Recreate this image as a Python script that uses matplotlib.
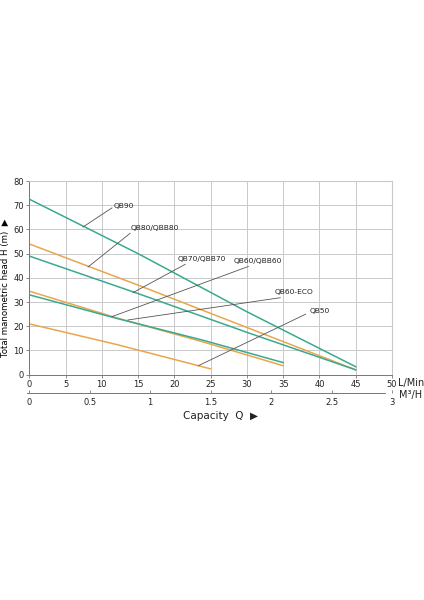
import numpy as np
import matplotlib.pyplot as plt

# pump curves: capacity (L/min) vs head (m)
qb90_q = [0, 15, 30, 45]
qb90_h = [72.5, 50, 26, 3.3]
qb80_q = [0, 15, 30, 45]
qb80_h = [54, 37, 19.5, 2]
qb70_q = [0, 15, 30, 45]
qb70_h = [49, 33.5, 17.5, 2]
qb60_q = [0, 12, 24, 35]
qb60_h = [34.5, 23.5, 13.5, 3.7]
eco_q = [0, 12, 24, 35]
eco_h = [33, 23.3, 14.2, 5]
qb50_q = [0, 12, 25]
qb50_h = [21, 12.5, 2.4]

# labels: text position and point on curve
labels = ["QB90", "QB80/QBB80", "QB70/QBB70", "QB60/QBB60", "QB60-ECO", "QB50"]
label_xy = [(11.6, 69.5), (14.0, 60.5), (20.4, 47.8), (28.2, 47.0), (33.8, 34.2), (38.7, 26.5)]
leader_start = [(11.4, 68.9), (13.9, 58.4), (21.5, 45.6), (30.2, 44.7), (34.6, 31.8), (38.1, 25.0)]
leader_end = [(7.4, 61.0), (8.1, 44.5), (14.3, 33.9), (11.4, 24.0), (13.6, 22.6), (23.3, 3.7)]

teal = "#3aa98f"
orange = "#e9a64c"

fig = plt.figure(figsize=(4.24, 6.0), dpi=100)
ax = fig.add_axes([0.0691, 0.3755, 0.8554, 0.3228])

ax.plot(qb90_q, qb90_h, color=teal, lw=1.1)
ax.plot(qb80_q, qb80_h, color=orange, lw=1.1)
ax.plot(qb70_q, qb70_h, color=teal, lw=1.1)
ax.plot(qb60_q, qb60_h, color=orange, lw=1.1)
ax.plot(eco_q, eco_h, color=teal, lw=1.1)
ax.plot(qb50_q, qb50_h, color=orange, lw=1.1)

for name, txy, s, e in zip(labels, label_xy, leader_start, leader_end):
    ax.plot([s[0], e[0]], [s[1], e[1]], color="#555555", lw=0.6)
    ax.text(txy[0], txy[1], name, fontsize=5.4, color="#222222", ha="left", va="center")

ax.set_xlim(0, 50)
ax.set_ylim(0, 80)
ax.set_xticks(np.arange(0, 51, 5))
ax.set_yticks(np.arange(0, 81, 10))
ax.grid(True, color="#c9c9c9", lw=0.7)
for side in ["top", "right"]:
    ax.spines[side].set_color("#c9c9c9")
for side in ["left", "bottom"]:
    ax.spines[side].set_color("#777777")
    ax.spines[side].set_linewidth(0.7)
ax.tick_params(labelsize=6, length=2, width=0.6, color="#777777", pad=2, labelcolor="#222222")
ax.set_ylabel("Total manometric head H (m)  \u25b6", fontsize=6.2)
ax.yaxis.set_label_coords(-0.053, 0.45)

# second capacity scale in m3/h
ax2 = fig.add_axes([0.0691, 0.3455, 0.8554, 0.001])
ax2.set_xlim(0, 3)
ax2.set_xticks([0, 0.5, 1, 1.5, 2, 2.5, 3])
ax2.set_xticklabels(["0", "0.5", "1", "1.5", "2", "2.5", "3"])
ax2.set_yticks([])
for side in ["top", "right", "left"]:
    ax2.spines[side].set_visible(False)
ax2.spines["bottom"].set_bounds(-0.02, 2.94)
ax2.spines["bottom"].set_color("#777777")
ax2.spines["bottom"].set_linewidth(0.7)
ax2.tick_params(axis="x", direction="in", length=2, width=0.6, color="#777777",
                labelsize=6, pad=4, labelcolor="#222222")
ax2.patch.set_visible(False)

fig.text(0.939, 0.361, "L/Min", fontsize=7, color="#222222", ha="left", va="center")
fig.text(0.942, 0.341, "M\u00b3/H", fontsize=7, color="#222222", ha="left", va="center")
fig.text(0.52, 0.306, "Capacity  Q  \u25b6", fontsize=7.5, color="#222222", ha="center", va="center")

fig.savefig("out.png", dpi=100)
